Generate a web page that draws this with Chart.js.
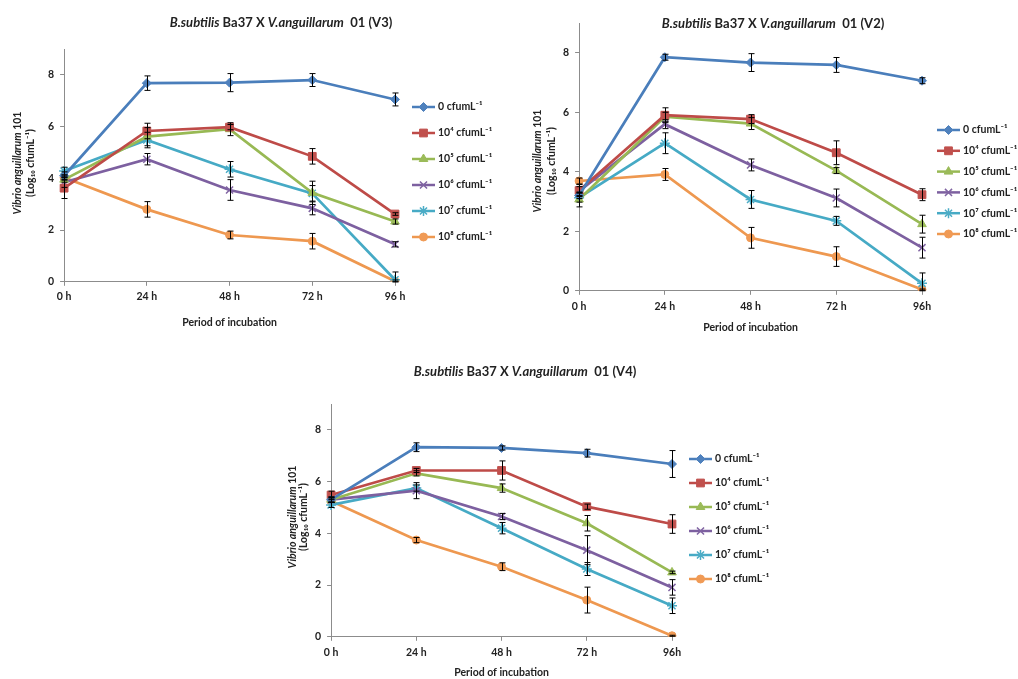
<!DOCTYPE html>
<html>
<head>
<meta charset="utf-8">
<script src="https://cdn.jsdelivr.net/npm/chart.js@4.4.1/dist/chart.umd.min.js"></script>
<style>
    body { margin: 0; background: #fff; }
    .box { position: absolute; }
</style>
</head>
<body>
<div class="box" style="left:0px;top:0px;width:505px;height:340px"><canvas id="chartV3"></canvas></div>
<div class="box" style="left:520px;top:0px;width:498px;height:340px"><canvas id="chartV2"></canvas></div>
<div class="box" style="left:250px;top:350px;width:540px;height:329px"><canvas id="chartV4"></canvas></div>
<script>
// x categories (V2 and V4 print the last one as "96h")
const hoursV3 = ['0 h', '24 h', '48 h', '72 h', '96 h'];
const hoursV2 = ['0 h', '24 h', '48 h', '72 h', '96h'];
const hoursV4 = ['0 h', '24 h', '48 h', '72 h', '96h'];

const doses = ['0 cfumL⁻¹', '10⁴ cfumL⁻¹', '10⁵ cfumL⁻¹', '10⁶ cfumL⁻¹', '10⁷ cfumL⁻¹', '10⁸ cfumL⁻¹'];

// log10 counts, one row per dose (0, 10^4 ... 10^8)
const v3Means = [
    [4.1, 7.68, 7.7, 7.8, 7.05],
    [3.62, 5.83, 5.98, 4.85, 2.62],
    [3.95, 5.61, 5.9, 3.44, 2.33],
    [3.85, 4.74, 3.55, 2.84, 1.45],
    [4.28, 5.48, 4.35, 3.42, 0.08],
    [4.03, 2.8, 1.81, 1.57, 0.02]
];
const v3Errors = [
    [0.15, 0.28, 0.35, 0.25, 0.25],
    [0.4, 0.3, 0.1, 0.3, 0.05],
    [0.1, 0.35, 0.25, 0.45, 0.1],
    [0.2, 0.22, 0.4, 0.25, 0.1],
    [0.15, 0.3, 0.3, 0.3, 0.3],
    [0.1, 0.3, 0.15, 0.3, 0.05]
];

const v2Means = [
    [3.2, 7.85, 7.67, 7.59, 7.06],
    [3.37, 5.9, 5.77, 4.64, 3.23],
    [3.07, 5.85, 5.62, 4.04, 2.24],
    [3.35, 5.6, 4.23, 3.12, 1.45],
    [3.13, 4.96, 3.07, 2.35, 0.25],
    [3.69, 3.91, 1.78, 1.15, 0.04]
];
const v2Errors = [
    [0.1, 0.1, 0.3, 0.25, 0.1],
    [0.2, 0.25, 0.15, 0.4, 0.2],
    [0.25, 0.15, 0.2, 0.1, 0.3],
    [0.15, 0.15, 0.2, 0.3, 0.35],
    [0.15, 0.35, 0.3, 0.15, 0.35],
    [0.1, 0.2, 0.35, 0.33, 0.02]
];

const v4Means = [
    [5.3, 7.33, 7.3, 7.1, 6.68],
    [5.48, 6.43, 6.43, 5.03, 4.36],
    [5.3, 6.32, 5.75, 4.39, 2.49],
    [5.3, 5.65, 4.65, 3.35, 1.91],
    [5.1, 5.75, 4.2, 2.62, 1.2],
    [5.25, 3.74, 2.71, 1.42, 0.04]
];
const v4Errors = [
    [0.1, 0.17, 0.08, 0.15, 0.52],
    [0.15, 0.08, 0.37, 0.1, 0.36],
    [0.1, 0.1, 0.16, 0.3, 0.05],
    [0.1, 0.31, 0.12, 0.56, 0.3],
    [0.1, 0.12, 0.22, 0.25, 0.3],
    [0.05, 0.1, 0.15, 0.5, 0.02]
];

// excel 2007 default series look
const seriesStyle = [
    { line: '#4A7EBB', fill: '#4F81BD', point: 'rectRot', r: 4.5 },
    { line: '#BE4B48', fill: '#C0504D', point: 'rect', r: 5.5 },
    { line: '#98B954', fill: '#9BBB59', point: 'triangle', r: 5 },
    { line: '#7D60A0', fill: '#8064A2', point: 'crossRot', r: 5 },
    { line: '#46AAC5', fill: '#4BACC6', point: 'star', r: 5 },
    { line: '#EE9850', fill: '#F09A55', point: 'circle', r: 4 }
];

const FONT = 'Lato, "Open Sans", sans-serif';

function drawRuns(ctx, runs, cx, baseY, size) {
    let total = 0;
    const parts = runs.map(r => {
        const font = (r.italic ? 'italic ' : '') + 'bold ' + size + 'px ' + FONT;
        ctx.font = font;
        const w = ctx.measureText(r.text).width;
        total += w;
        return { text: r.text, font: font, w: w };
    });
    let x = cx - total / 2;
    ctx.textAlign = 'left';
    ctx.textBaseline = 'alphabetic';
    parts.forEach(p => {
        ctx.font = p.font;
        ctx.fillText(p.text, x, baseY);
        x += p.w;
    });
}

// error bars, mixed-style titles and the excel-like legend
const extras = {
    id: 'extras',
    afterDatasetsDraw(chart, args, opts) {
        const ctx = chart.ctx;
        const xs = chart.scales.x, ys = chart.scales.y;
        ctx.save();
        ctx.strokeStyle = '#000';
        ctx.lineWidth = 1;
        chart.data.datasets.forEach(ds => {
            ds.data.forEach((v, j) => {
                const e = ds.errors[j];
                const x = Math.round(xs.getPixelForValue(j)) + 0.5;
                const y1 = ys.getPixelForValue(v + e);
                const y2 = ys.getPixelForValue(Math.max(v - e, 0));
                ctx.beginPath();
                ctx.moveTo(x, y1); ctx.lineTo(x, y2);
                ctx.moveTo(x - 3, y1); ctx.lineTo(x + 3, y1);
                ctx.moveTo(x - 3, y2); ctx.lineTo(x + 3, y2);
                ctx.stroke();
            });
        });
        ctx.restore();
    },
    afterDraw(chart, args, opts) {
        const ctx = chart.ctx;
        ctx.save();
        ctx.fillStyle = '#222';
        drawRuns(ctx, [
            { text: 'B.subtilis', italic: true },
            { text: ' Ba37 X ' },
            { text: 'V.anguillarum', italic: true },
            { text: '  01 (' + opts.tag + ')' }
        ], opts.titleX, opts.titleY + 4.5, 13);

        // y axis title, two rotated lines
        ctx.save();
        ctx.translate(opts.yTitleX[0], opts.yTitleY);
        ctx.rotate(-Math.PI / 2);
        drawRuns(ctx, [{ text: 'Vibrio anguillarum', italic: true }, { text: ' 101' }], 0, 3.7, 10.5);
        ctx.restore();
        ctx.save();
        ctx.translate(opts.yTitleX[1], opts.yTitleY);
        ctx.rotate(-Math.PI / 2);
        drawRuns(ctx, [{ text: '(Log₁₀ cfumL⁻¹)' }], 0, 3.7, 10.5);
        ctx.restore();

        // legend
        chart.data.datasets.forEach((ds, i) => {
            const y = opts.legendY + i * opts.legendStep;
            const x0 = opts.legendX, x1 = opts.legendX + 23;
            ctx.strokeStyle = ds.borderColor;
            ctx.lineWidth = 2.5;
            ctx.beginPath();
            ctx.moveTo(x0, y); ctx.lineTo(x1, y);
            ctx.stroke();
            ctx.fillStyle = ds.pointBackgroundColor;
            ctx.strokeStyle = ds.pointBorderColor;
            ctx.lineWidth = ds.pointBorderWidth;
            Chart.helpers.drawPoint(ctx, { pointStyle: ds.pointStyle, radius: ds.pointRadius, rotation: 0, borderWidth: ds.pointBorderWidth }, (x0 + x1) / 2, y);
            ctx.fillStyle = '#222';
            ctx.font = 'bold 10.5px ' + FONT;
            ctx.textAlign = 'left';
            ctx.textBaseline = 'middle';
            ctx.fillText(ds.label, x1 + 3, y);
        });
        ctx.restore();
    }
};

function makeChart(id, labels, means, errors, lay) {
    const datasets = means.map((row, i) => {
        const st = seriesStyle[i];
        return {
            label: doses[i],
            data: row,
            errors: errors[i],
            borderColor: st.line,
            borderWidth: 2.7,
            pointStyle: st.point,
            pointRadius: st.r,
            pointBackgroundColor: st.fill,
            pointBorderColor: st.fill,
            pointBorderWidth: (st.point === 'crossRot' || st.point === 'star') ? 1.5 : 1,
            tension: 0
        };
    });

    const axisGrey = '#8C8C8C';
    const tickFont = { family: FONT, weight: 'bold', size: 10.5 };

    return new Chart(document.getElementById(id), {
        type: 'line',
        data: { labels: labels, datasets: datasets },
        options: {
            animation: false,
            responsive: true,
            maintainAspectRatio: false,
            layout: { padding: lay.pad },
            plugins: {
                legend: { display: false },
                tooltip: { enabled: false },
                extras: lay
            },
            scales: {
                x: {
                    offset: false,
                    grid: { drawOnChartArea: false, tickLength: 4, color: axisGrey },
                    border: { color: axisGrey },
                    ticks: { font: tickFont, color: '#222', padding: lay.tickPad, maxRotation: 0 },
                    title: {
                        display: true,
                        text: 'Period of incubation',
                        font: tickFont,
                        color: '#222',
                        padding: { top: lay.titlePad, bottom: 0 }
                    }
                },
                y: {
                    min: 0,
                    max: 9,
                    grid: { drawOnChartArea: false, tickLength: 4, color: axisGrey },
                    border: { color: axisGrey },
                    ticks: { stepSize: 2, includeBounds: false, font: tickFont, color: '#222', padding: 6 }
                }
            }
        },
        plugins: [extras]
    });
}

makeChart('chartV3', hoursV3, v3Means, v3Errors, {
    tag: 'V3', pad: { left: 42, top: 49, right: 110, bottom: 11 }, tickPad: 5, titlePad: 8,
    titleX: 281, titleY: 22, yTitleX: [17, 30], yTitleY: 163,
    legendX: 412, legendY: 107, legendStep: 26
});
makeChart('chartV2', hoursV2, v2Means, v2Errors, {
    tag: 'V2', pad: { left: 37, top: 23, right: 96, bottom: 6 }, tickPad: 6, titlePad: 2,
    titleX: 253, titleY: 23, yTitleX: [17, 31], yTitleY: 161,
    legendX: 417, legendY: 130, legendStep: 20.8
});
makeChart('chartV4', hoursV4, v4Means, v4Errors, {
    tag: 'V4', pad: { left: 59, top: 54, right: 118, bottom: 0 }, tickPad: 6, titlePad: 1,
    titleX: 275, titleY: 21, yTitleX: [42, 53], yTitleY: 167,
    legendX: 439, legendY: 109, legendStep: 24
});
</script>
</body>
</html>
